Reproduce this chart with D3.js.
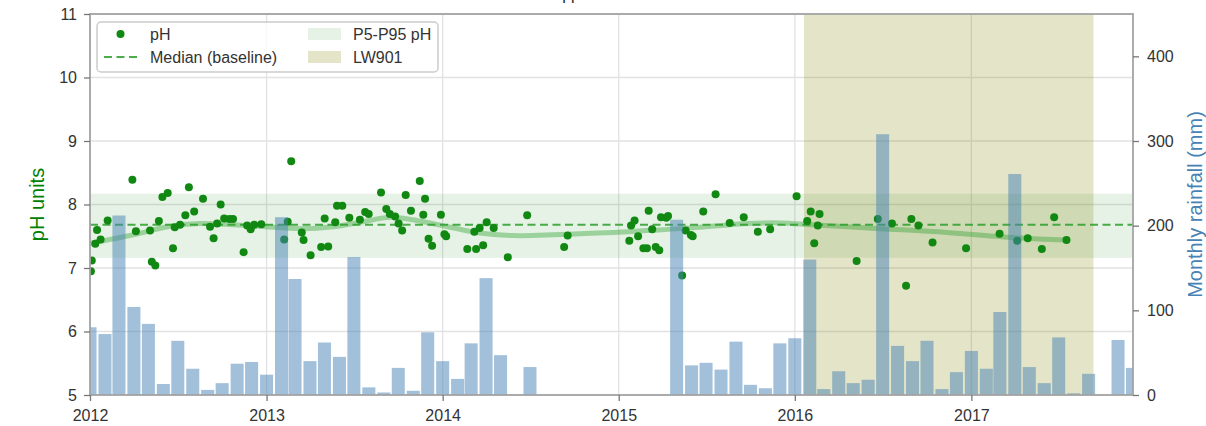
<!DOCTYPE html>
<html>
<head>
<meta charset="utf-8">
<script src="https://cdn.jsdelivr.net/npm/d3@7"></script>
<style>
  body { margin: 0; background: #fff; }
  svg { display: block; font-family: "Liberation Sans", Arial, sans-serif; }
</style>
</head>
<body>
<svg id="chart" width="1206" height="426"></svg>
<script>
// pH samples: decimal year and value
var phYears = [2012.005, 2012.01, 2012.03, 2012.04, 2012.06, 2012.10, 2012.24, 2012.26, 2012.34, 2012.35,
    2012.37, 2012.39, 2012.41, 2012.44, 2012.47, 2012.48, 2012.51, 2012.54, 2012.56, 2012.59,
    2012.64, 2012.68, 2012.70, 2012.72, 2012.74, 2012.76, 2012.79, 2012.81, 2012.87, 2012.89,
    2012.91, 2012.93, 2012.97, 2013.10, 2013.12, 2013.14, 2013.20, 2013.21, 2013.25, 2013.31,
    2013.33, 2013.35, 2013.39, 2013.40, 2013.43, 2013.47, 2013.53, 2013.56, 2013.58, 2013.65,
    2013.68, 2013.70, 2013.73, 2013.75, 2013.77, 2013.79, 2013.82, 2013.87, 2013.89, 2013.90,
    2013.92, 2013.94, 2013.99, 2014.01, 2014.02, 2014.14, 2014.18, 2014.19, 2014.21, 2014.23,
    2014.25, 2014.29, 2014.37, 2014.48, 2014.69, 2014.71, 2015.06, 2015.07, 2015.09, 2015.11,
    2015.14, 2015.16, 2015.17, 2015.19, 2015.21, 2015.23, 2015.24, 2015.27, 2015.28, 2015.36,
    2015.38, 2015.41, 2015.42, 2015.48, 2015.55, 2015.63, 2015.71, 2015.79, 2015.86, 2016.01,
    2016.07, 2016.09, 2016.11, 2016.13, 2016.14, 2016.35, 2016.47, 2016.55, 2016.63, 2016.66,
    2016.70, 2016.78, 2016.97, 2017.16, 2017.26, 2017.32, 2017.40, 2017.47, 2017.54];
var phValues = [6.95, 7.12, 7.38, 7.60, 7.45, 7.75, 8.39, 7.58, 7.59, 7.10,
    7.04, 7.74, 8.12, 8.18, 7.31, 7.64, 7.68, 7.83, 8.27, 7.89,
    8.09, 7.65, 7.47, 7.70, 8.00, 7.78, 7.77, 7.77, 7.25, 7.67,
    7.61, 7.68, 7.69, 7.45, 7.73, 8.68, 7.56, 7.44, 7.20, 7.33,
    7.78, 7.34, 7.72, 7.98, 7.98, 7.79, 7.76, 7.88, 7.85, 8.19,
    7.93, 7.85, 7.81, 7.70, 7.59, 8.15, 7.90, 8.37, 7.84, 8.09,
    7.46, 7.35, 7.84, 7.53, 7.50, 7.30, 7.57, 7.30, 7.63, 7.36,
    7.72, 7.63, 7.17, 7.83, 7.33, 7.51, 7.43, 7.67, 7.75, 7.50,
    7.31, 7.31, 7.90, 7.61, 7.33, 7.28, 7.80, 7.79, 7.82, 6.88,
    7.59, 7.52, 7.50, 7.89, 8.16, 7.71, 7.80, 7.57, 7.61, 8.13,
    7.74, 7.89, 7.39, 7.67, 7.85, 7.11, 7.77, 7.70, 6.72, 7.77,
    7.67, 7.40, 7.31, 7.54, 7.43, 7.47, 7.30, 7.80, 7.44];

// smoothed trend (decimal year, pH)
var trendYears = [2012.00, 2012.24, 2012.44, 2012.62, 2012.81, 2013.00, 2013.19, 2013.38, 2013.57, 2013.70,
    2013.83, 2014.03, 2014.21, 2014.40, 2014.59, 2014.78, 2014.97, 2015.16, 2015.35, 2015.54,
    2015.73, 2015.92, 2016.10, 2016.48, 2016.86, 2017.24, 2017.54];
var trendValues = [7.39, 7.52, 7.65, 7.70, 7.68, 7.65, 7.62, 7.65, 7.74, 7.80,
    7.76, 7.65, 7.55, 7.51, 7.52, 7.54, 7.56, 7.59, 7.62, 7.66,
    7.70, 7.71, 7.68, 7.62, 7.56, 7.48, 7.44];

// monthly rainfall (mm), one per month from Jan 2012
var rainStart = '2012-01-01';
var rainValues = [80, 72, 212, 104, 84, 13, 64, 31, 6, 14, 37, 39,
    24, 210, 137, 40, 62, 45, 163, 9, 3, 32, 5, 74,
    40, 19, 61, 138, 47, 0, 33, 0, 0, 0, 0, 0,
    0, 0, 0, 0, 207, 35, 38, 30, 63, 12, 8, 61,
    67, 160, 7, 28, 14, 18, 308, 58, 40, 64, 7, 27,
    52, 31, 98, 261, 33, 14, 68, 2, 25, 0, 65, 32];

var phMedian = 7.68;
var phBand = [7.16, 8.17]; // P5, P95
var lwSpan = ['2016-01-20', '2017-09-11'];

var yearTicks = [2012, 2013, 2014, 2015, 2016, 2017];
var phTicks = [5, 6, 7, 8, 9, 10, 11];
var rainTicks = [0, 100, 200, 300, 400];

var parseDate = d3.timeParse('%Y-%m-%d');

function fromDecimalYear(t) {
    var y = Math.floor(t),
        a = new Date(y, 0, 1),
        b = new Date(y + 1, 0, 1);
    return new Date(a.getTime() + (t - y) * (b - a));
}

var svg = d3.select('#chart'),
    plotL = 90, plotR = 1133, plotT = 14, plotB = 395;

var x = d3.scaleTime().domain([new Date(2012, 0, 1), new Date(2017, 11, 2)]).range([plotL, plotR]),
    yL = d3.scaleLinear().domain([5, 11]).range([plotB, plotT]),
    yR = d3.scaleLinear().domain([0, 450]).range([plotB, plotT]);

svg.append('defs').append('clipPath').attr('id', 'plotClip')
    .append('rect')
    .attr('x', plotL).attr('y', plotT)
    .attr('width', plotR - plotL).attr('height', plotB - plotT);

// title (mostly above the visible area)
svg.append('text')
    .attr('x', (plotL + plotR) / 2).attr('y', 0)
    .attr('text-anchor', 'middle')
    .style('font-size', '16px').style('fill', '#262626')
    .text('Upper catchment');

var plot = svg.append('g').attr('clip-path', 'url(#plotClip)');

// grid
plot.selectAll('line.vgrid').data(yearTicks).enter().append('line')
    .attr('class', 'vgrid')
    .attr('x1', function (d) { return x(new Date(d, 0, 1)); })
    .attr('x2', function (d) { return x(new Date(d, 0, 1)); })
    .attr('y1', plotT).attr('y2', plotB)
    .style('stroke', '#e2e2e2').style('stroke-width', 1.3);
plot.selectAll('line.hgrid').data(phTicks).enter().append('line')
    .attr('class', 'hgrid')
    .attr('x1', plotL).attr('x2', plotR)
    .attr('y1', function (d) { return yL(d); })
    .attr('y2', function (d) { return yL(d); })
    .style('stroke', '#e2e2e2').style('stroke-width', 1.3);

// P5-P95 band
plot.append('rect')
    .attr('x', plotL).attr('width', plotR - plotL)
    .attr('y', yL(phBand[1])).attr('height', yL(phBand[0]) - yL(phBand[1]))
    .style('fill', 'green').style('fill-opacity', 0.1);

// LW901 span
plot.append('rect')
    .attr('x', x(parseDate(lwSpan[0])))
    .attr('width', x(parseDate(lwSpan[1])) - x(parseDate(lwSpan[0])))
    .attr('y', plotT).attr('height', plotB - plotT)
    .style('fill', 'olive').style('fill-opacity', 0.21);

// median line
plot.append('line')
    .attr('x1', plotL).attr('x2', plotR)
    .attr('y1', yL(phMedian)).attr('y2', yL(phMedian))
    .style('stroke', '#2ca02c').style('stroke-opacity', 0.85)
    .style('stroke-width', 2).style('stroke-dasharray', '8,4.5');

// smoothed trend
var trend = trendYears.map(function (t, i) { return [fromDecimalYear(t), trendValues[i]]; });
plot.append('path')
    .datum(trend)
    .attr('d', d3.line()
        .x(function (d) { return x(d[0]); })
        .y(function (d) { return yL(d[1]); })
        .curve(d3.curveCatmullRom))
    .style('fill', 'none').style('stroke', '#2ca02c')
    .style('stroke-opacity', 0.4).style('stroke-width', 5)
    .style('stroke-linecap', 'round');

// pH points
plot.selectAll('circle.ph').data(phYears).enter().append('circle')
    .attr('class', 'ph')
    .attr('cx', function (d) { return x(fromDecimalYear(d)); })
    .attr('cy', function (d, i) { return yL(phValues[i]); })
    .attr('r', 4)
    .style('fill', '#118811');

// rainfall bars (secondary axis, drawn on top)
var month0 = parseDate(rainStart);
plot.selectAll('rect.rain').data(rainValues).enter().append('rect')
    .attr('class', 'rain')
    .attr('x', function (d, i) { return x(d3.timeHour.offset(d3.timeMonth.offset(month0, i), -324)); })
    .attr('width', function (d, i) {
        var c = d3.timeMonth.offset(month0, i);
        return x(d3.timeHour.offset(c, 324)) - x(d3.timeHour.offset(c, -324));
    })
    .attr('y', function (d) { return yR(d); })
    .attr('height', function (d) { return plotB - yR(d); })
    .style('fill', 'steelblue').style('fill-opacity', 0.5);

// spines
svg.append('rect')
    .attr('x', plotL).attr('y', plotT)
    .attr('width', plotR - plotL).attr('height', plotB - plotT)
    .style('fill', 'none').style('stroke', '#a3a3a3').style('stroke-width', 1.8);

// axes
var tickColor = '#777', labelColor = '#333';
var xAxis = svg.append('g').attr('transform', 'translate(0,' + plotB + ')')
    .call(d3.axisBottom(x)
        .tickValues(yearTicks.map(function (d) { return new Date(d, 0, 1); }))
        .tickFormat(d3.timeFormat('%Y')).tickSize(6).tickPadding(9));
var yAxisL = svg.append('g').attr('transform', 'translate(' + plotL + ',0)')
    .call(d3.axisLeft(yL).tickValues(phTicks).tickFormat(d3.format('d')).tickSize(6).tickPadding(7));
var yAxisR = svg.append('g').attr('transform', 'translate(' + plotR + ',0)')
    .call(d3.axisRight(yR).tickValues(rainTicks).tickFormat(d3.format('d')).tickSize(6).tickPadding(8));

[xAxis, yAxisL, yAxisR].forEach(function (a) {
    a.select('.domain').remove();
    a.selectAll('line').style('stroke', tickColor).style('stroke-width', 1.3);
    a.selectAll('text').style('font-size', '16px').style('fill', labelColor)
        .style('font-family', '"Liberation Sans", Arial, sans-serif');
});

// axis labels
svg.append('text')
    .attr('transform', 'translate(44,' + ((plotT + plotB) / 2) + ') rotate(-90)')
    .attr('text-anchor', 'middle')
    .style('font-size', '20px').style('fill', 'green')
    .text('pH units');
svg.append('text')
    .attr('transform', 'translate(1202,' + ((plotT + plotB) / 2) + ') rotate(-90)')
    .attr('text-anchor', 'middle')
    .style('font-size', '20px').style('fill', 'steelblue')
    .text('Monthly rainfall (mm)');

// legend
var legend = svg.append('g');
legend.append('rect')
    .attr('x', 97).attr('y', 22).attr('width', 341).attr('height', 50).attr('rx', 4)
    .style('fill', '#fff').style('fill-opacity', 0.8)
    .style('stroke', '#cccccc').style('stroke-width', 1.5);
legend.append('circle').attr('cx', 120.5).attr('cy', 34).attr('r', 4).style('fill', '#118811');
legend.append('line').attr('x1', 104).attr('x2', 137).attr('y1', 57).attr('y2', 57)
    .style('stroke', '#2ca02c').style('stroke-opacity', 0.85)
    .style('stroke-width', 2).style('stroke-dasharray', '8,4.5');
legend.append('rect').attr('x', 308).attr('y', 28).attr('width', 33).attr('height', 12)
    .style('fill', 'green').style('fill-opacity', 0.1);
legend.append('rect').attr('x', 308).attr('y', 51).attr('width', 33).attr('height', 12)
    .style('fill', 'olive').style('fill-opacity', 0.21);
var legendItems = [
    { x: 150, y: 34, text: 'pH' },
    { x: 150, y: 57, text: 'Median (baseline)' },
    { x: 353, y: 34, text: 'P5-P95 pH' },
    { x: 353, y: 57, text: 'LW901' }
];
legend.selectAll('text.item').data(legendItems).enter().append('text')
    .attr('class', 'item')
    .attr('x', function (d) { return d.x; })
    .attr('y', function (d) { return d.y; })
    .attr('dy', '0.35em')
    .style('font-size', '16px').style('fill', labelColor)
    .text(function (d) { return d.text; });
</script>
</body>
</html>
